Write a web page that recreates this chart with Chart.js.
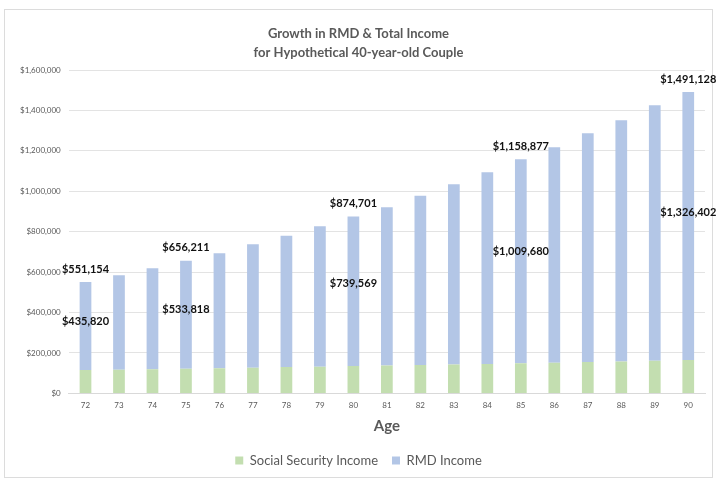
<!DOCTYPE html>
<html>
<head>
<meta charset="utf-8">
<script src="https://cdn.jsdelivr.net/npm/chart.js@4.4.1/dist/chart.umd.min.js"></script>
<style>
  html, body { margin: 0; padding: 0; background: #fff; }
  .frame {
    position: absolute; left: 4px; top: 9px;
    width: 707px; height: 467px;
    border: 1px solid #dcdcdc;
  }
  #chart { position: absolute; left: 0; top: 0; }
</style>
</head>
<body>
<div class="frame"></div>
<canvas id="chart" width="720" height="486"></canvas>
<script>
// --- DATA ---
const ages = ['72', '73', '74', '75', '76', '77', '78', '79', '80', '81',
              '82', '83', '84', '85', '86', '87', '88', '89', '90'];
const ssIncome = [115334, 117000, 120000, 122393, 125000, 127000, 130000, 132000, 135132, 138000,
                  141000, 143000, 146000, 149197, 152000, 155000, 158000, 162000, 164726];
const rmdIncome = [435820, 467000, 499000, 533818, 568000, 611000, 650000, 695000, 739569, 783000,
                   837000, 892000, 948000, 1009680, 1066000, 1132000, 1193000, 1264000, 1326402];
const labeledAges = ['72', '75', '80', '85', '90'];
const yTicks = [0, 200000, 400000, 600000, 800000, 1000000, 1200000, 1400000, 1600000];

const FONT = 'Lato, "Open Sans", sans-serif';
const GREY = '#595959';

const money = v => '$' + v.toLocaleString('en-US');

// draws the bold $ labels on the labelled bars
const valueLabels = {
    id: 'valueLabels',
    afterDatasetsDraw(chart) {
        const { ctx, scales: { x, y } } = chart;
        ctx.save();
        ctx.font = 'bold 11px ' + FONT;
        ctx.fillStyle = '#111';
        ctx.textAlign = 'center';
        ctx.textBaseline = 'middle';
        labeledAges.forEach(age => {
            const i = ages.indexOf(age);
            const cx = x.getPixelForValue(i);
            const total = ssIncome[i] + rmdIncome[i];
            ctx.fillText(money(total), cx, y.getPixelForValue(total) - 13);
            ctx.fillText(money(rmdIncome[i]), cx, y.getPixelForValue(ssIncome[i] + rmdIncome[i] * 0.55));
        });
        ctx.restore();
    }
};

new Chart(document.getElementById('chart'), {
    type: 'bar',
    data: {
        labels: ages,
        datasets: [{
            label: 'Social Security Income',
            data: ssIncome,
            backgroundColor: '#c3deb0',
            barPercentage: 0.7,
            categoryPercentage: 0.5
        }, {
            label: 'RMD Income',
            data: rmdIncome,
            backgroundColor: '#b3c6e6',
            barPercentage: 0.7,
            categoryPercentage: 0.5
        }]
    },
    options: {
        responsive: false,
        animation: false,
        layout: { padding: { left: 12, right: 15, top: 24, bottom: 9 } },
        scales: {
            x: {
                stacked: true,
                grid: { display: false, drawTicks: false },
                border: { color: '#d9d9d9' },
                ticks: { color: GREY, font: { family: FONT, size: 8 }, padding: 7 },
                title: {
                    display: true, text: 'Age', color: GREY,
                    font: { family: FONT, size: 15, weight: 'bold' },
                    padding: { top: 0, bottom: 5 }
                }
            },
            y: {
                stacked: true,
                min: 0,
                max: 1600000,
                afterBuildTicks: axis => { axis.ticks = yTicks.map(v => ({ value: v })); },
                grid: { color: '#e3e3e3', drawTicks: false },
                border: { display: false },
                ticks: {
                    color: GREY, padding: 8,
                    font: { family: FONT, size: 8 },
                    callback: v => money(v)
                }
            }
        },
        plugins: {
            title: {
                display: true,
                text: ['Growth in RMD & Total Income', 'for Hypothetical 40-year-old Couple'],
                color: GREY,
                font: { family: FONT, size: 13, weight: 'bold', lineHeight: 1.5 },
                padding: { top: 0, bottom: 7 }
            },
            legend: {
                position: 'bottom',
                labels: {
                    color: GREY, boxWidth: 8, boxHeight: 8, padding: 14,
                    font: { family: FONT, size: 13 }
                }
            },
            tooltip: { enabled: false }
        }
    },
    plugins: [valueLabels]
});
</script>
</body>
</html>
